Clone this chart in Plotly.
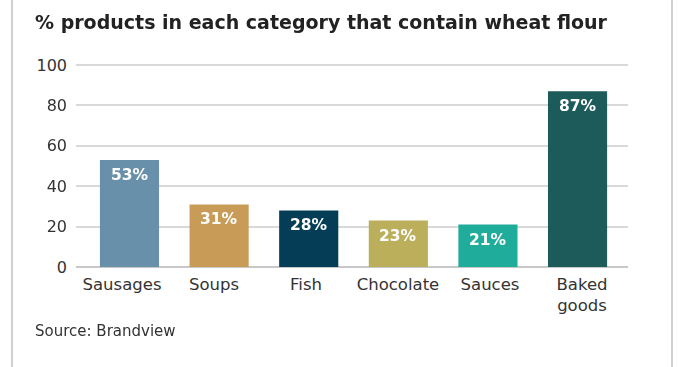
import plotly.graph_objects as go

categories = ["Sausages", "Soups", "Fish", "Chocolate", "Sauces", "Baked<br>goods"]
values = [53, 31, 28, 23, 21, 87]
labels = ["53%", "31%", "28%", "23%", "21%", "87%"]
colors = ["#6890AA", "#C89B57", "#053D57", "#BCAF5C", "#20AC9A", "#1D5A5A"]
y_ticks = [0, 20, 40, 60, 80, 100]

FONT = "DejaVu Sans"
positions = list(range(len(categories)))

fig = go.Figure()
# invisible trace that carries the category axis labels
fig.add_trace(go.Scatter(x=positions, y=values, mode="markers", opacity=0,
                         hoverinfo="skip", xaxis="x", yaxis="y"))
# the bars themselves
fig.add_trace(go.Bar(
    x=positions, y=values, hovertext=categories,
    marker=dict(color=colors, line=dict(width=0)),
    width=0.66, xaxis="x2", yaxis="y",
))

W, H = 678, 367
L, R, T, B = 76, 50, 63, 100
pw, ph = W - L - R, H - T - B

def px_x(x):
    return (x - L) / pw

def px_y(y):
    return (H - B - y) / ph

annotations = [
    dict(text="<b>%s</b>" % lab, x=pos, y=val, xref="x2", yref="y",
         xanchor="center", yanchor="middle", yshift=-15, showarrow=False,
         font=dict(family=FONT, size=15.5, color="white"))
    for pos, val, lab in zip(positions, values, labels)
]
annotations.append(dict(text="Source: Brandview", x=px_x(33), y=px_y(331),
                        xref="paper", yref="paper", xanchor="left", yanchor="middle",
                        showarrow=False, font=dict(family=FONT, size=15, color="#333333")))

fig.update_layout(
    width=W, height=H,
    margin=dict(l=L, r=R, t=T, b=B, autoexpand=False),
    paper_bgcolor="white", plot_bgcolor="white",
    font=dict(family=FONT, color="#333333"),
    showlegend=False,
    title=dict(text="<b>% products in each category that contain wheat flour</b>",
               x=35 / W, xanchor="left", xref="container",
               y=1 - 22 / H, yanchor="middle", yref="container",
               font=dict(family=FONT, size=19, color="#222222")),
    xaxis=dict(range=[-0.5, 5.5], tickvals=positions, ticktext=categories,
               showgrid=False, showline=False, zeroline=False,
               ticks="", ticklabelstandoff=5, tickfont=dict(size=16.5, color="#333333")),
    xaxis2=dict(range=[-0.597, 5.563], overlaying="x", showgrid=False, showline=False,
                zeroline=False, showticklabels=False, ticks=""),
    yaxis=dict(range=[0, 101], tickvals=y_ticks, showgrid=True, gridcolor="#D9D9D9",
               gridwidth=1.5, zeroline=True, zerolinecolor="#C8C8C8", zerolinewidth=1.5,
               showline=False, ticks="", ticklabelstandoff=8,
               tickfont=dict(size=16, color="#333333")),
    annotations=annotations,
    shapes=[
        dict(type="line", xref="paper", yref="paper", x0=px_x(12), x1=px_x(12),
             y0=px_y(0), y1=px_y(H), line=dict(color="#D0D0D0", width=2)),
        dict(type="line", xref="paper", yref="paper", x0=px_x(672), x1=px_x(672),
             y0=px_y(0), y1=px_y(H), line=dict(color="#D0D0D0", width=2)),
    ],
)

fig.write_html("out.html")
